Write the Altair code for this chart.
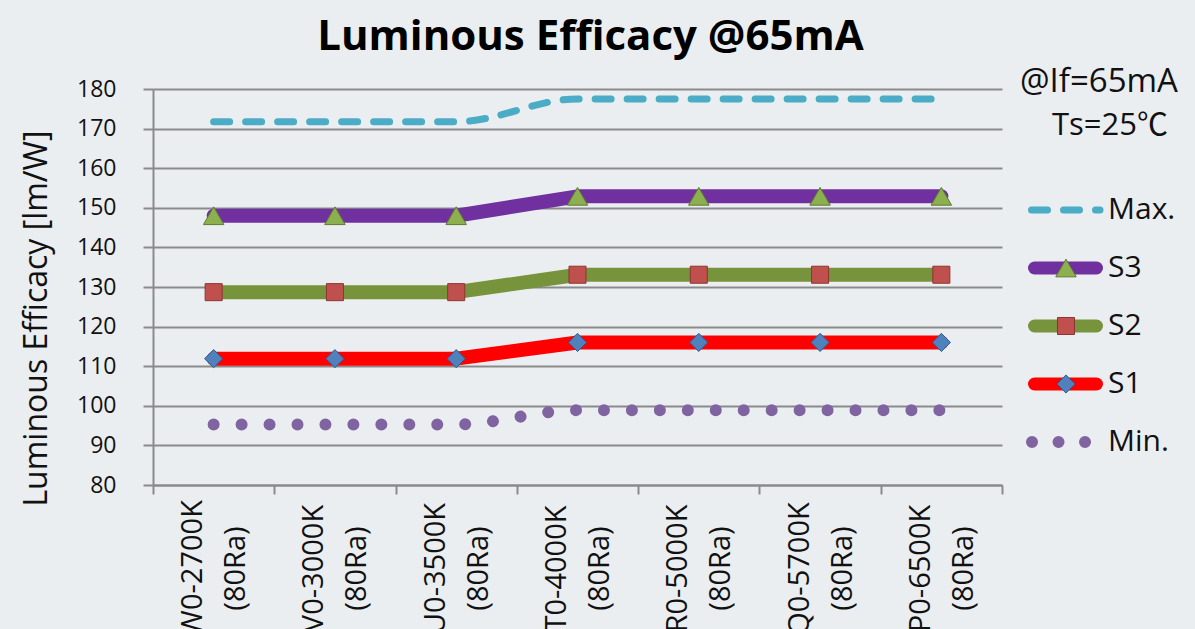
import altair as alt
import pandas as pd

# ---------------- data ----------------
CATEGORIES = ["W0-2700K (80Ra)", "V0-3000K (80Ra)", "U0-3500K (80Ra)",
              "T0-4000K (80Ra)", "R0-5000K (80Ra)", "Q0-5700K (80Ra)",
              "P0-6500K (80Ra)"]
MAX_VALUES = [171.7, 171.7, 171.7, 177.5, 177.5, 177.5, 177.5]
S3_VALUES = [148.0, 148.0, 148.0, 152.9, 152.9, 152.9, 152.9]
S2_VALUES = [128.7, 128.7, 128.7, 133.1, 133.1, 133.1, 133.1]
S1_VALUES = [111.9, 111.9, 111.9, 116.0, 116.0, 116.0, 116.0]
MIN_VALUES = [95.3, 95.3, 95.3, 98.9, 98.9, 98.9, 98.9]
LEGEND_NAMES = ["Max.", "S3", "S2", "S1", "Min."]
Y_TICKS = [80, 90, 100, 110, 120, 130, 140, 150, 160, 170, 180]
TITLE = "Luminous Efficacy @65mA"
Y_TITLE = "Luminous Efficacy [lm/W]"
NOTE_LINE1 = "@If=65mA"
NOTE_LINE2 = "Ts=25\u2103"

FONT = "Open Sans, Noto Sans CJK KR, sans-serif"
GRID = "#8a8a8a"

series = {"Max.": MAX_VALUES, "S3": S3_VALUES, "S2": S2_VALUES,
          "S1": S1_VALUES, "Min.": MIN_VALUES}
rows = []
for name, vals in series.items():
    for c, v in zip(CATEGORIES, vals):
        rows.append({"series": name, "category": c, "value": v})
df = pd.DataFrame(rows)
legend_df = pd.DataFrame({"name": LEGEND_NAMES})

W, H = 849, 396

x_enc = alt.X("category:N", sort=CATEGORIES,
              scale=alt.Scale(type="band", paddingInner=0, paddingOuter=0),
              axis=alt.Axis(title=None, labelAngle=270, labelAlign="center",
                            labelBaseline="middle",
                            labelExpr="split(datum.label, ' ')",
                            labelFontSize=29, labelLineHeight=43,
                            labelFont=FONT, labelColor="#111111",
                            labelPadding=74, labelOffset=-21,
                            tickBand="extent", tickSize=9,
                            tickColor=GRID, tickWidth=2, domainColor=GRID,
                            domainWidth=2, grid=False, labelOverlap=False))
y_enc = alt.Y("value:Q", scale=alt.Scale(domain=[80, 180], nice=False, zero=False),
              axis=alt.Axis(title=Y_TITLE, values=Y_TICKS, grid=True,
                            gridColor=GRID, gridWidth=2, domainColor=GRID,
                            domainWidth=2, tickColor=GRID, tickWidth=2,
                            tickSize=10, labelFontSize=23, labelFont=FONT,
                            labelColor="#111111", labelPadding=27,
                            titleFont=FONT, titleFontSize=32,
                            titleFontWeight="normal", titleColor="#111111",
                            titleAngle=270, titleX=-107, titleY=229,
                            titleAlign="center", titleBaseline="alphabetic"))

base = alt.Chart(df)


def series_line(name, color, width, dash=None, interp="linear"):
    kw = dict(color=color, strokeWidth=width, strokeCap="round",
              strokeJoin="round", interpolate=interp, clip=False)
    if dash is not None:
        kw["strokeDash"] = dash
    return base.transform_filter(alt.datum.series == name).mark_line(**kw).encode(
        x=x_enc, y=y_enc)


def series_points(name, shape, fill, stroke, size):
    return base.transform_filter(alt.datum.series == name).mark_point(
        shape=shape, filled=True, fill=fill, stroke=stroke, strokeWidth=1,
        size=size, opacity=1).encode(x=x_enc, y=y_enc)


main = alt.layer(
    series_line("Max.", "#4BACC6", 7, [16, 16], "monotone"),
    series_line("S3", "#7030A0", 14),
    series_points("S3", "triangle-up", "#8DB04F", "#5E7B2E", 420),
    series_line("S2", "#77933C", 14),
    series_points("S2", "square", "#C0504D", "#8C3533", 290),
    series_line("S1", "#FF0000", 14),
    series_points("S1", "diamond", "#4F81BD", "#2A5C95", 330),
    series_line("Min.", "#8064A2", 12, [0.01, 27.94], "monotone"),
)

# ---------------- legend ----------------
ly = alt.Y("name:N", sort=LEGEND_NAMES,
           scale=alt.Scale(type="point", domain=LEGEND_NAMES, range=[121, 353],
                           padding=0),
           axis=None)
lbase = alt.Chart(legend_df)


def leg_rule(name, color, width, x1, x2, dash=None):
    kw = dict(color=color, strokeWidth=width, strokeCap="round")
    if dash is not None:
        kw["strokeDash"] = dash
    return lbase.transform_filter(alt.datum.name == name).mark_rule(**kw).encode(
        x=alt.value(x1), x2=alt.value(x2), y=ly)


def leg_point(name, shape, fill, stroke, size):
    return lbase.transform_filter(alt.datum.name == name).mark_point(
        shape=shape, filled=True, fill=fill, stroke=stroke, strokeWidth=1,
        size=size, opacity=1).encode(x=alt.value(913), y=ly)


legend = alt.layer(
    leg_rule("Max.", "#4BACC6", 7, 878.5, 947, [16, 16]),
    leg_rule("S3", "#7030A0", 13, 881.5, 943.5),
    leg_point("S3", "triangle-up", "#8DB04F", "#5E7B2E", 420),
    leg_rule("S2", "#77933C", 13, 881.5, 943.5),
    leg_point("S2", "square", "#C0504D", "#8C3533", 290),
    leg_rule("S1", "#FF0000", 13, 881.5, 943.5),
    leg_point("S1", "diamond", "#4F81BD", "#2A5C95", 330),
    leg_rule("Min.", "#8064A2", 12, 879, 934, [0.01, 26.5]),
    lbase.mark_text(align="left", baseline="middle", fontSize=30, font=FONT,
                    color="#111111").encode(x=alt.value(955), y=ly,
                                            text="name:N"),
)

notes = alt.layer(
    alt.Chart(pd.DataFrame({"t": [NOTE_LINE1]})).mark_text(
        align="left", baseline="alphabetic", fontSize=33, font=FONT,
        color="#111111").encode(x=alt.value(867), y=alt.value(3), text="t:N"),
    alt.Chart(pd.DataFrame({"t": [NOTE_LINE2]})).mark_text(
        align="left", baseline="alphabetic", fontSize=31, font=FONT,
        color="#111111").encode(x=alt.value(899), y=alt.value(46), text="t:N"),
)

chart = alt.layer(main, legend, notes).resolve_scale(y="independent").properties(
    width=W, height=H,
    title=alt.TitleParams(TITLE, fontSize=42, fontWeight="bold", font=FONT,
                          color="#000000", anchor="middle", frame="group",
                          dx=13, offset=-26, baseline="alphabetic"),
    autosize=alt.AutoSizeParams(type="none"),
    padding={"left": 153, "top": 89, "right": 193, "bottom": 144},
).configure(background="#ebeef0").configure_view(stroke=None)

chart.save("out.html", embed_options={"renderer": "svg", "actions": False})
